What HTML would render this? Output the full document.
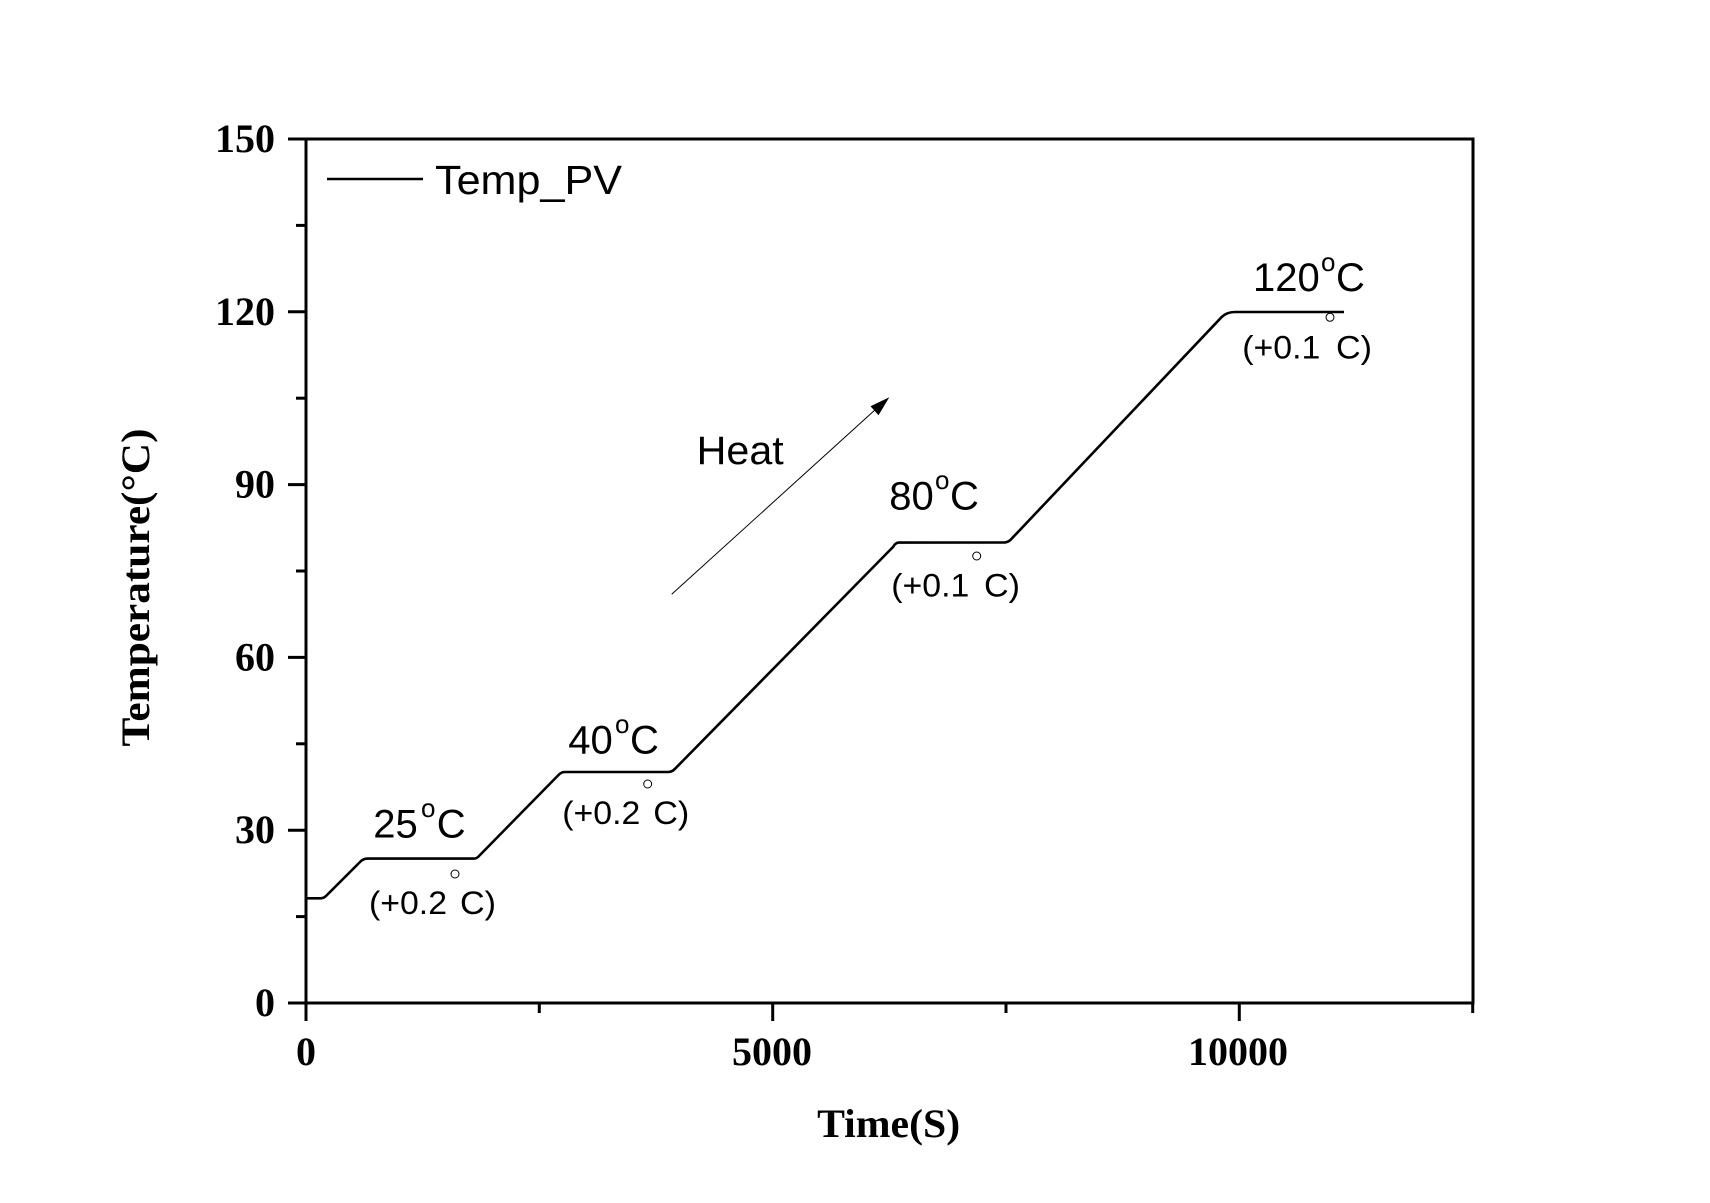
<!DOCTYPE html>
<html>
<head>
<meta charset="utf-8">
<style>
  html, body { margin: 0; padding: 0; background: #fff; }
  svg { display: block; }
  .tick { font-family: "Liberation Serif", serif; font-weight: bold; font-size: 40px; fill: #000; }
  .ann { font-family: "Liberation Sans", sans-serif; fill: #000; }
</style>
</head>
<body>
<svg width="1710" height="1203" viewBox="0 0 1710 1203" xmlns="http://www.w3.org/2000/svg">
  <rect x="0" y="0" width="1710" height="1203" fill="#fff"/>

  <!-- frame -->
  <g stroke="#000" stroke-width="3" fill="none" stroke-linecap="square">
    <line x1="306" y1="139" x2="1473" y2="139"/>
    <line x1="1473" y1="139" x2="1473" y2="1003"/>
    <line x1="306" y1="139" x2="306" y2="1003"/>
    <line x1="306" y1="1003" x2="1473" y2="1003"/>
  </g>

  <!-- y ticks -->
  <g stroke="#000" stroke-width="3">
    <line x1="288" y1="1003" x2="306" y2="1003"/>
    <line x1="288" y1="830.2" x2="306" y2="830.2"/>
    <line x1="288" y1="657.4" x2="306" y2="657.4"/>
    <line x1="288" y1="484.6" x2="306" y2="484.6"/>
    <line x1="288" y1="311.8" x2="306" y2="311.8"/>
    <line x1="288" y1="139" x2="306" y2="139"/>
    <line x1="296" y1="916.6" x2="306" y2="916.6"/>
    <line x1="296" y1="743.8" x2="306" y2="743.8"/>
    <line x1="296" y1="571" x2="306" y2="571"/>
    <line x1="296" y1="398.2" x2="306" y2="398.2"/>
    <line x1="296" y1="225.4" x2="306" y2="225.4"/>
  </g>
  <!-- x ticks -->
  <g stroke="#000" stroke-width="3">
    <line x1="306" y1="1003" x2="306" y2="1021"/>
    <line x1="772.7" y1="1003" x2="772.7" y2="1021"/>
    <line x1="1239.3" y1="1003" x2="1239.3" y2="1021"/>
    <line x1="539.3" y1="1003" x2="539.3" y2="1013"/>
    <line x1="1006" y1="1003" x2="1006" y2="1013"/>
    <line x1="1472.7" y1="1003" x2="1472.7" y2="1013"/>
  </g>

  <!-- y tick labels -->
  <g class="tick" text-anchor="end">
    <text x="275" y="1016">0</text>
    <text x="275" y="843.2">30</text>
    <text x="275" y="670.4">60</text>
    <text x="275" y="497.6">90</text>
    <text x="275" y="324.8">120</text>
    <text x="275" y="152">150</text>
  </g>
  <!-- x tick labels -->
  <g class="tick" text-anchor="middle">
    <text x="306" y="1065">0</text>
    <text x="772" y="1065">5000</text>
    <text x="1238" y="1065">10000</text>
  </g>

  <!-- axis titles -->
  <text class="tick" x="888.6" y="1137" text-anchor="middle" font-size="41" textLength="143" lengthAdjust="spacingAndGlyphs">Time(S)</text>
  <text class="tick" transform="translate(149,587.5) rotate(-90)" x="0" y="0" text-anchor="middle" font-size="41" textLength="318" lengthAdjust="spacingAndGlyphs">Temperature(°C)</text>

  <!-- legend -->
  <line x1="327" y1="179" x2="423" y2="179" stroke="#000" stroke-width="2.6"/>
  <text class="ann" x="435" y="194" font-size="41" textLength="187" lengthAdjust="spacingAndGlyphs">Temp_PV</text>

  <!-- data curve -->
  <path d="M306,898.3 L321,898.3 Q324,898 326,896 L361,861 Q364,858.6 368,858.6 L474,858.6 Q477,858.5 479,856 L559,774.5 Q561.5,772 565,772 L668,772 Q672,772 675,768.8 L893.3,546.7 Q895.5,542.6 899,542.6 L1005,542.4 Q1009,542 1012,538.3 L1222,316.7 Q1227,312 1235,312 L1344,312"
        fill="none" stroke="#000" stroke-width="2.6" stroke-linejoin="round"/>

  <!-- Heat arrow -->
  <line x1="671.7" y1="594.3" x2="876" y2="409" stroke="#000" stroke-width="1"/>
  <polygon points="889.3,397.3 878.5,415.2 870.5,406.2" fill="#000"/>
  <text class="ann" x="696.7" y="464" font-size="40" textLength="87" lengthAdjust="spacingAndGlyphs">Heat</text>

  <!-- temperature labels -->
  <g class="ann" font-size="40">
    <text x="373.3" y="837.3">25</text>
    <text x="436.7" y="837.3">C</text>
    <text x="568.3" y="753.3">40</text>
    <text x="630" y="753.3">C</text>
    <text x="889.3" y="509.3">80</text>
    <text x="950" y="509.3">C</text>
    <text x="1253" y="291">120</text>
    <text x="1336" y="291">C</text>
  </g>
  <g class="ann" font-size="26">
    <text x="421" y="817">o</text>
    <text x="615" y="733">o</text>
    <text x="935" y="489">o</text>
    <text x="1321" y="271">o</text>
  </g>

  <!-- tolerance labels -->
  <g class="ann" font-size="32">
    <text x="369" y="914" textLength="78" lengthAdjust="spacingAndGlyphs">(+0.2</text>
    <text x="460" y="914" textLength="36" lengthAdjust="spacingAndGlyphs">C)</text>
    <text x="562.3" y="824" textLength="78" lengthAdjust="spacingAndGlyphs">(+0.2</text>
    <text x="653.3" y="824" textLength="36" lengthAdjust="spacingAndGlyphs">C)</text>
    <text x="891.3" y="596.7" textLength="78" lengthAdjust="spacingAndGlyphs">(+0.1</text>
    <text x="984" y="596.7" textLength="36" lengthAdjust="spacingAndGlyphs">C)</text>
    <text x="1242.3" y="358.3" textLength="78" lengthAdjust="spacingAndGlyphs">(+0.1</text>
    <text x="1336" y="358.3" textLength="36" lengthAdjust="spacingAndGlyphs">C)</text>
  </g>
  <g fill="none" stroke="#000" stroke-width="1">
    <circle cx="455" cy="874" r="4"/>
    <circle cx="647.7" cy="784" r="4"/>
    <circle cx="976.7" cy="556" r="4"/>
    <circle cx="1330" cy="317.3" r="4"/>
  </g>
</svg>
</body>
</html>
